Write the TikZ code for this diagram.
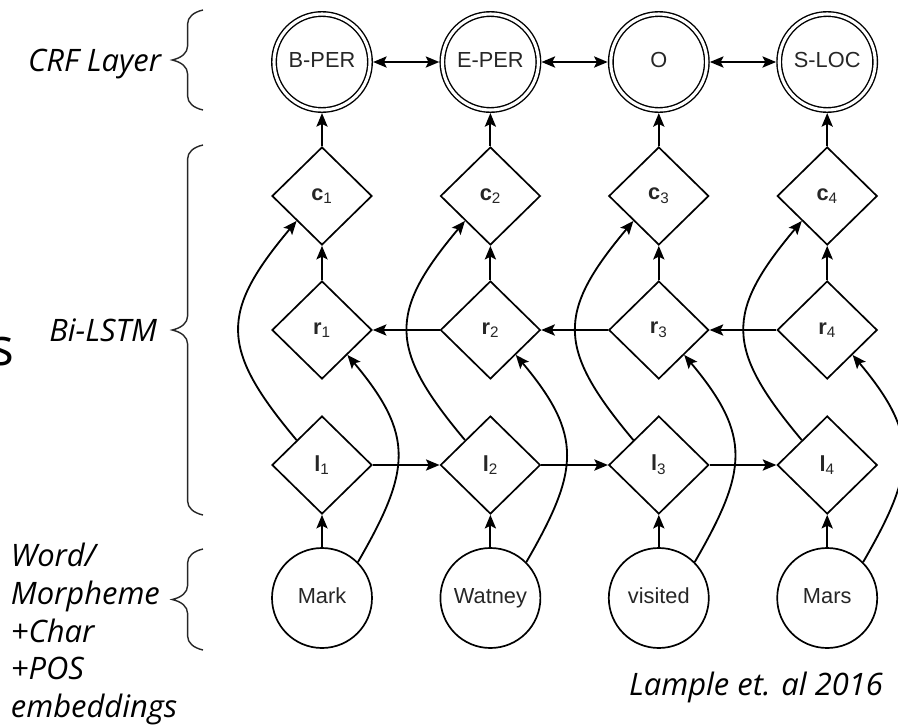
\documentclass[tikz,border=0pt]{standalone}
\usepackage{fontspec}
\setmainfont{Liberation Sans}
\newfontfamily\notefont{Open Sans}
\usetikzlibrary{arrows.meta, shapes.geometric, decorations.pathreplacing}

\begin{document}
\begin{tikzpicture}[
    crf/.style={circle, draw, double, double distance=2.2pt, line width=1pt, minimum size=2.4cm, inner sep=0, outer sep=2.2pt, text height=1.7ex, text depth=0.2ex},
    cell/.style={diamond, draw, line width=1.2pt, aspect=1, minimum width=2.5cm, minimum height=2.45cm, inner sep=0},
    word/.style={circle, draw, line width=1.2pt, minimum size=2.5cm, inner sep=0, text height=1.7ex, text depth=0.2ex},
    note/.style={font=\notefont\itshape\fontsize{22}{26.7}\selectfont, inner sep=0, text=black},
    brace/.style={decorate, decoration={brace, amplitude=0.35cm, transform={yscale=2.2}}, line width=1pt, black!85},
    every node/.append style={text=black!85, font=\fontsize{15.5}{18}\selectfont},
    >={Stealth[length=3.4mm, width=2.8mm, inset=0.7mm]}, line width=1.3pt
]
  \useasboundingbox (0,0) rectangle (22.45,-18.15);

  % Columns: tag, cells, word
  \foreach \x/\i/\tag/\w in {8.05/1/B-PER/Mark, 12.26/2/E-PER/Watney, 16.47/3/O/visited, 20.68/4/S-LOC/Mars}{
    \node[crf] (t\i) at (\x, -1.55) {\tag};
    \node[cell] (c\i) at (\x, -4.9) {\textbf{c}\textsubscript{\i}};
    \node[cell] (r\i) at (\x, -8.25) {\textbf{r}\textsubscript{\i}};
    \node[cell] (l\i) at (\x, -11.625) {\textbf{l}\textsubscript{\i}};
    \node[word] (w\i) at (\x, -14.95) {\w};
  }

  % Connections along a row
  \foreach \i/\j in {1/2, 2/3, 3/4}{
    \draw[<->] (t\i) -- (t\j);
    \draw[->] (l\i) -- (l\j);
    \draw[->] (r\j) -- (r\i);
  }

  % Connections up a column
  \foreach \i in {1,...,4}{
    \draw[->] (c\i) -- (t\i);
    \draw[->] (r\i) -- (c\i);
    \draw[->] (w\i) -- (l\i);
    \draw[->] (l\i.north west) to[out=130, in=-130, looseness=1.4] (c\i.south west);
    \draw[->] (w\i.north east) to[out=60, in=-50, looseness=1.3] (r\i.south east);
  }

  % Layer braces
  \draw[brace] (5.075, -2.75) -- (5.075, -0.25);
  \draw[brace] (5.075, -12.875) -- (5.075, -3.625);
  \draw[brace] (5.075, -16.25) -- (5.075, -13.725);

  % Layer labels
  \node[note, anchor=east] (crflab) at (4.05, -1.6) {CRF Layer};
  \node[note, anchor=east] (lstmlab) at (3.95, -8.25) {Bi-LSTM};
  \node[note, anchor=west, align=left] (emblab) at (0.25, -15.85) {Word/\\Morpheme\\+Char\\+POS\\embeddings};
  \node[note] (cite) at (18.9, -17.175) {Lample et. al 2016};

  % Cut-off letter at the left edge
  \node[anchor=base east, inner sep=0, text=black, font=\notefont\fontsize{37}{40}\selectfont] (cut) at (0.375, -9.125) {s};
\end{tikzpicture}
\end{document}
